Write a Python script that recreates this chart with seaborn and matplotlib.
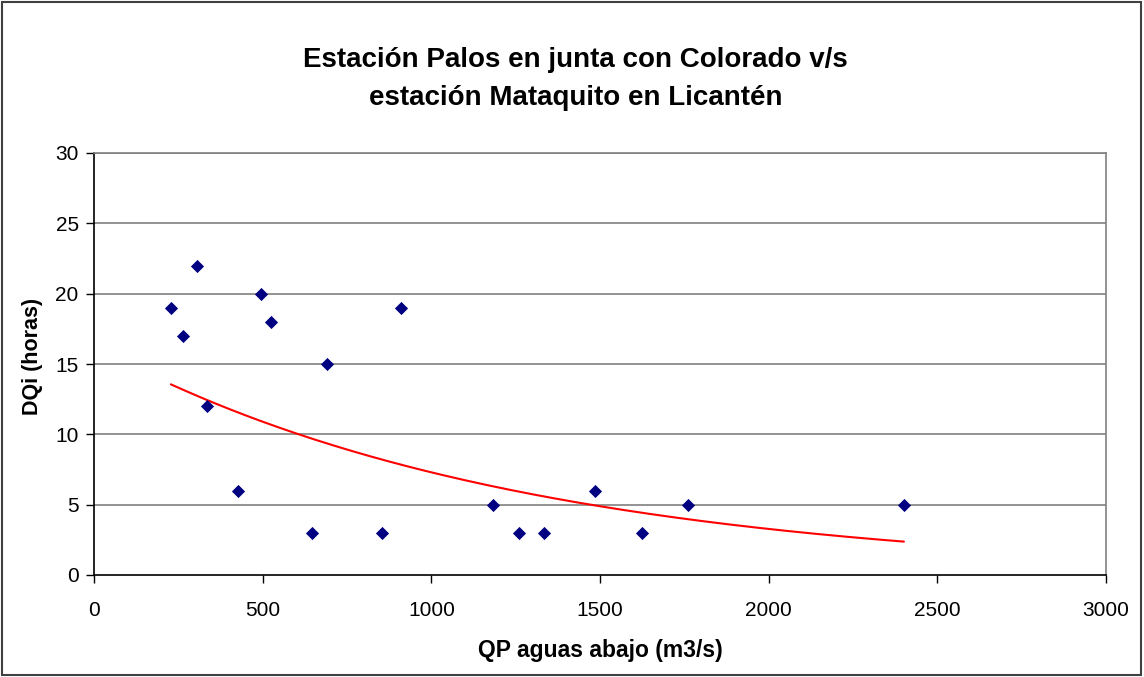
import seaborn as sns
import pandas as pd
import numpy as np
import matplotlib.pyplot as plt
from matplotlib.patches import Rectangle

sns.set_style('white')
plt.rcParams['font.family'] = ['Liberation Sans', 'DejaVu Sans']
plt.rcParams['text.color'] = 'black'
plt.rcParams['xtick.color'] = 'black'
plt.rcParams['ytick.color'] = 'black'
plt.rcParams['axes.labelcolor'] = 'black'

# Data
qp = [228, 264, 305, 335, 427, 495, 525, 646, 691, 854, 910,
      1183, 1260, 1334, 1485, 1625, 1761, 2401]
dqi = [19, 17, 22, 12, 6, 20, 18, 3, 15, 3, 19,
       5, 3, 3, 6, 3, 5, 5]
x_ticks = [0, 500, 1000, 1500, 2000, 2500, 3000]
y_ticks = [0, 5, 10, 15, 20, 25, 30]

df = pd.DataFrame({'qp': qp, 'dqi': dqi})

# exponential trend line (like Excel's)
b, lna = np.polyfit(df['qp'], np.log(df['dqi']), 1)
xt = np.linspace(df['qp'].min(), df['qp'].max(), 200)
trend = pd.DataFrame({'qp': xt, 'dqi': np.exp(lna) * np.exp(b * xt)})

fig = plt.figure(figsize=(11.44, 6.77), dpi=100)
ax = fig.add_axes([94/1144, 102/677, 1012/1144, 422/677])

for y in y_ticks[1:]:
    ax.axhline(y, color='#808080', lw=1.2, zorder=0)

sns.scatterplot(x='qp', y='dqi', data=df, marker='D', s=45, color='#000080',
                edgecolor='#000080', linewidth=0, ax=ax, zorder=3)
sns.lineplot(x='qp', y='dqi', data=trend, color='#ff0000', lw=1.5, ax=ax, zorder=2)

ax.set_xlim(0, 3000)
ax.set_ylim(0, 30)
ax.set_xticks(x_ticks)
ax.set_yticks(y_ticks)
ax.tick_params(axis='both', labelsize=15, direction='out', length=6,
               width=1, color='black', bottom=True, left=True)
ax.tick_params(axis='x', pad=13)
ax.tick_params(axis='y', pad=5)

for side in ['top', 'right']:
    ax.spines[side].set_color('#808080')
    ax.spines[side].set_linewidth(1.2)
for side in ['left', 'bottom']:
    ax.spines[side].set_color('black')
    ax.spines[side].set_linewidth(1.2)

ax.set_xlabel('QP aguas abajo (m3/s)', fontsize=16.5, fontweight='bold')
ax.set_ylabel('DQi (horas)', fontsize=15.5, fontweight='bold')
ax.xaxis.set_label_coords(0.5, (575 - 650) / 422)
ax.yaxis.set_label_coords((33 - 94) / 1012, (575 - 356) / 422)
ax.xaxis.label.set_va('center')
ax.yaxis.label.set_va('center')

fig.text(0.503, 1 - 79/677, 'Estación Palos en junta con Colorado v/s\nestación Mataquito en Licantén',
         ha='center', va='center', fontsize=20, fontweight='bold', linespacing=1.58)

fig.patches.append(Rectangle((2/1144, 2/677), 1139/1144, 673/677, transform=fig.transFigure,
                             fill=False, edgecolor='#404040', lw=1.5))

plt.savefig('out.png', dpi=100)
